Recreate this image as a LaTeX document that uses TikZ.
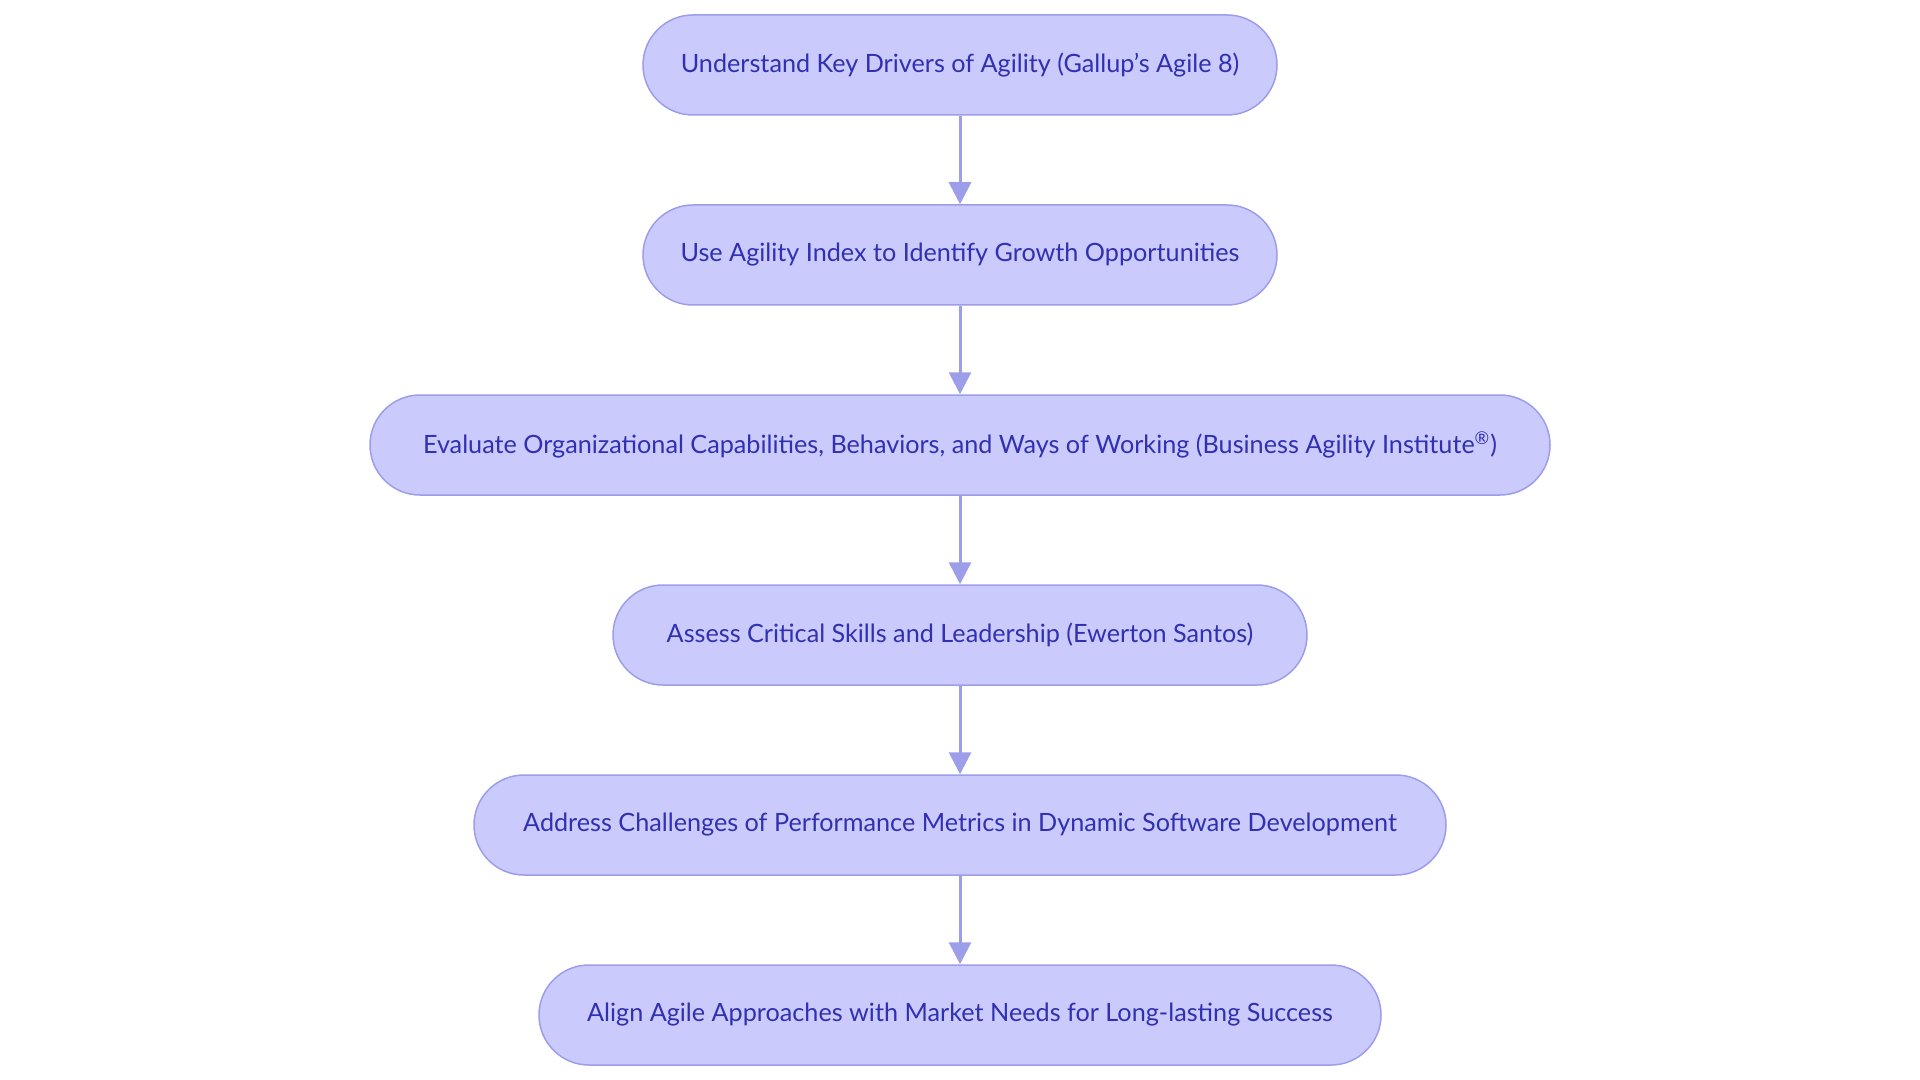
\documentclass[tikz,border=0pt]{standalone}
\usepackage{fontspec}
\setmainfont{Lato}
\usetikzlibrary{arrows.meta}
\definecolor{boxfill}{HTML}{CACAFC}
\definecolor{boxline}{HTML}{9C9EEA}
\definecolor{boxtext}{HTML}{3030B0}
\definecolor{arrowc}{HTML}{9C9EEA}
\begin{document}
\begin{tikzpicture}[x=0.5pt,y=-0.5pt,
  stepbox/.style={draw=boxline, fill=boxfill, line width=0.75pt, rounded corners=25pt,
    minimum height=50pt, text=boxtext, font=\fontsize{12.6}{15}\selectfont, inner sep=0pt},
  conn/.style={draw=arrowc, line width=1.5pt, -{Triangle[length=11pt,width=11pt]}}]
\useasboundingbox (0,0) rectangle (1920,1080);
\node[stepbox, minimum width=317pt] (n1) at (960,65) {Understand Key Drivers of Agility (Gallup’s Agile 8)};
\node[stepbox, minimum width=317pt] (n2) at (960,255) {Use Agility Index to Identify Growth Opportunities};
\node[stepbox, minimum width=590pt] (n3) at (960,445) {Evaluate Organizational Capabilities, Behaviors, and Ways of Working (Business Agility Institute\textsuperscript{®})};
\node[stepbox, minimum width=347pt] (n4) at (960,635) {Assess Critical Skills and Leadership (Ewerton Santos)};
\node[stepbox, minimum width=486pt] (n5) at (960,825) {Address Challenges of Performance Metrics in Dynamic Software Development};
\node[stepbox, minimum width=421pt] (n6) at (960,1015) {Align Agile Approaches with Market Needs for Long-lasting Success};
\draw[conn] (n1) -- (n2);
\draw[conn] (n2) -- (n3);
\draw[conn] (n3) -- (n4);
\draw[conn] (n4) -- (n5);
\draw[conn] (n5) -- (n6);
\end{tikzpicture}
\end{document}
